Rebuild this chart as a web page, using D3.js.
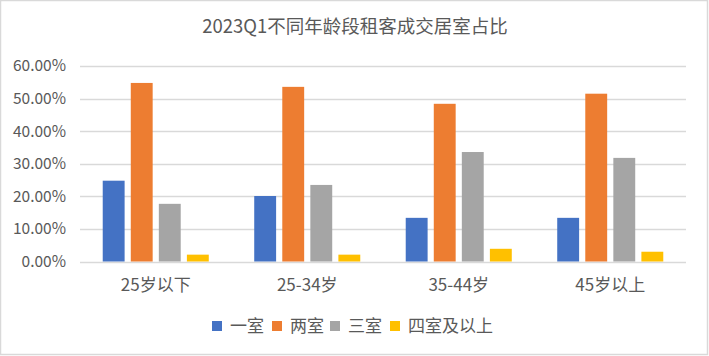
<!DOCTYPE html>
<html><head><meta charset="utf-8">
<script src="https://cdn.jsdelivr.net/npm/d3@7"></script>
<style>
html,body{margin:0;padding:0;background:#fff;}
svg{display:block;font-family:"Noto Sans CJK SC","Noto Sans",sans-serif;}
</style></head>
<body><svg id="c" width="709" height="356"></svg>
<script>
const title = "2023Q1不同年龄段租客成交居室占比";
const categories = ["25岁以下", "25-34岁", "35-44岁", "45岁以上"];
const seriesNames = ["一室", "两室", "三室", "四室及以上"];
const colors = ["#4472C4", "#ED7D31", "#A5A5A5", "#FFC000"];
const s1 = [24.8, 20.1, 13.4, 13.4];
const s2 = [54.8, 53.6, 48.4, 51.5];
const s3 = [17.7, 23.5, 33.6, 31.8];
const s4 = [2.1, 2.1, 3.9, 3.0];
const yTicks = [0, 10, 20, 30, 40, 50, 60];
const seriesValues = [s1, s2, s3, s4];

const svg = d3.select("#c");
svg.append("rect").attr("x",0.5).attr("y",0.5).attr("width",707).attr("height",354)
  .attr("fill","#fff").attr("stroke","#d9d9d9").attr("stroke-width",1.5);

const L = 80, R = 686, T = 66, B = 261.5;
const x0 = d3.scaleBand().domain(categories).range([L, R]).paddingInner(0.3).paddingOuter(0.15);
const x1 = d3.scaleBand().domain(seriesNames).range([0, x0.bandwidth()]).paddingInner(0.22);
const y = d3.scaleLinear().domain([0, 60]).range([B, T]);

svg.append("text").attr("x", 355).attr("y", 33).attr("text-anchor","middle")
  .attr("font-size", 18.5).attr("fill","#595959").text(title);

// gridlines
svg.append("g").selectAll("line").data(yTicks).join("line")
  .attr("x1", L).attr("x2", R)
  .attr("y1", d => Math.round(y(d)) + 0.5).attr("y2", d => Math.round(y(d)) + 0.5)
  .attr("stroke", "#d9d9d9").attr("stroke-width", 1.3);

// y labels
const yAxis = d3.axisLeft(y).tickValues(yTicks).tickSize(0).tickPadding(0)
  .tickFormat(d => d3.format(".2f")(d) + "%");
const ya = svg.append("g").attr("transform", `translate(${L-14},0)`).call(yAxis);
ya.select(".domain").remove();
ya.selectAll("text").attr("font-size", 15.5).attr("fill", "#595959")
  .attr("font-family", '"Noto Sans CJK SC","Noto Sans",sans-serif');

// bars
const g = svg.append("g");
categories.forEach((c, ci) => {
  seriesValues.forEach((vals, si) => {
    g.append("rect")
      .attr("x", x0(c) + x1(seriesNames[si]))
      .attr("width", x1.bandwidth())
      .attr("y", y(vals[ci]))
      .attr("height", y(0) - y(vals[ci]))
      .attr("fill", colors[si]);
  });
});

// x labels
const xAxis = d3.axisBottom(x0).tickSize(0).tickPadding(0);
const xa = svg.append("g").attr("transform", `translate(0,${B})`).call(xAxis);
xa.select(".domain").remove();
xa.selectAll("text").attr("font-size", 17).attr("fill", "#595959").attr("dy", null).attr("y", 29)
  .attr("font-family", '"Noto Sans CJK SC","Noto Sans",sans-serif');

// legend
const legendX = [212, 272, 330, 390];
const lg = svg.append("g");
seriesNames.forEach((n, i) => {
  lg.append("rect").attr("x", legendX[i]).attr("y", 321).attr("width", 10).attr("height", 10).attr("fill", colors[i]);
  lg.append("text").attr("x", legendX[i] + 18).attr("y", 332).attr("font-size", 17)
    .attr("fill", "#595959").text(n);
});
</script></body></html>
